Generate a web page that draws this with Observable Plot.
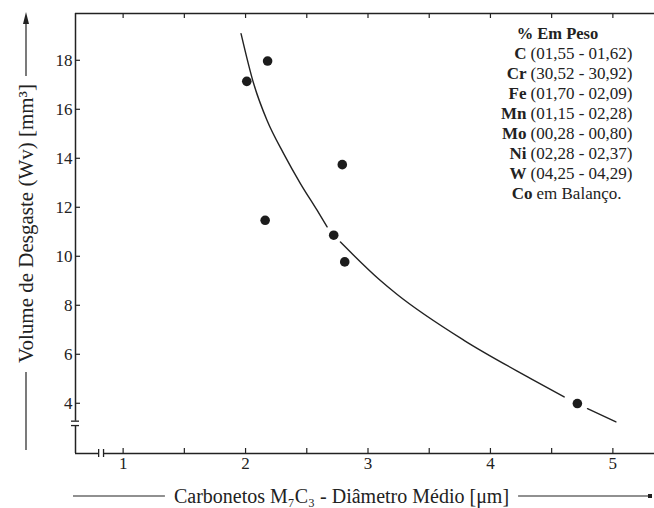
<!DOCTYPE html>
<html><head><meta charset="utf-8">
<script src="https://cdn.jsdelivr.net/npm/d3@7"></script>
<script src="https://cdn.jsdelivr.net/npm/@observablehq/plot@0.6"></script>
<style>
body{margin:0;background:#fff;}
#chart{width:654px;height:508px;}
#chart svg text{font-family:"Liberation Serif","Times New Roman",serif !important;}
</style></head><body><div id="chart"></div>
<script>
// ---- data ----
const pointX = [2.01, 2.18, 2.79, 2.16, 2.72, 2.81, 4.71];
const pointY = [17.14, 17.97, 13.74, 11.47, 10.86, 9.77, 3.99];
const curveSeg = [1,1,1,1,1,1,1, 2,2,2,2,2,2, 3,3];
const curveX = [1.963,2.066,2.175,2.311,2.448,2.584,2.666, 2.775,3.099,3.236,3.784,4.329,4.602, 4.793,5.025];
const curveY = [19.09,17.05,15.55,14.19,12.97,11.88,11.20, 10.58,9.02,8.45,6.57,5.01,4.26, 3.78,3.24];
const xTicks = [1,1.5,2,2.5,3,3.5,4,4.5,5];
const xTickLabels = [1,2,3,4,5];
const yTicks = [4,6,8,10,12,14,16,18];
const xDomain = [0.611, 5.34];
const yDomain = [1.95, 19.91];
const yBreak = [3.09, 3.27];
const xBreak = [0.80, 0.84];
const legendTitle = "% Em Peso";
const elements = ["C","Cr","Fe","Mn","Mo","Ni","W","Co"];
const ranges = ["(01,55 - 01,62)","(30,52 - 30,92)","(01,70 - 02,09)","(01,15 - 02,28)","(00,28 - 00,80)","(02,28 - 02,37)","(04,25 - 04,29)","em Balanço."];
const xLabel = "Carbonetos M\u2087C\u2083 - Diâmetro Médio [μm]";
const yLabel = "Volume de Desgaste (Wv) [mm³]";

// ---- build ----
const W = 654, H = 508, mL = 75, mR = 0, mT = 13, mB = 55;
const fw = W - mL - mR, fh = H - mT - mB;
const points = pointX.map((x,i)=>({x, y: pointY[i]}));
const curve = curveX.map((x,i)=>({x, y: curveY[i], s: curveSeg[i]}));
const ink = "#222";
const font = '"Liberation Serif","Times New Roman",serif';

const legendMarks = [
  Plot.text([legendTitle], {frameAnchor:"top-left", dx: 557-mL, dy: 33-mT, textAnchor:"middle", lineAnchor:"middle", fontWeight:"bold", fontSize:16.5, fontFamily: font, fill: ink})
];
const rowSp = 20;
elements.forEach((e,i)=>{
  const last = i === elements.length-1;
  legendMarks.push(Plot.text([e], {frameAnchor:"top-left", dx: (last?532:526)-mL, dy: 33+(i+1)*rowSp-mT, textAnchor:"end", lineAnchor:"middle", fontWeight:"bold", fontSize:17, fontFamily: font, fill: ink}));
  legendMarks.push(Plot.text([ranges[i]], {frameAnchor:"top-left", dx: (last?536:530)-mL, dy: 33+(i+1)*rowSp-mT, textAnchor:"start", lineAnchor:"middle", fontSize:17, fontFamily: font, fill: ink}));
});

const chart = Plot.plot({
  width: W, height: H, marginLeft: mL, marginRight: mR, marginTop: mT, marginBottom: mB,
  style: {fontFamily: font, background: "#fff", color: ink, overflow: "visible"},
  x: {domain: xDomain, axis: null},
  y: {domain: yDomain, axis: null},
  marks: [
    // frame lines (with axis breaks)
    Plot.ruleY([yDomain[1]], {x1: xDomain[0], x2: xDomain[1], stroke: ink, strokeWidth: 1.5}),
    Plot.ruleY([yDomain[0]], {x1: xDomain[0], x2: xBreak[0], stroke: ink, strokeWidth: 1.5}),
    Plot.ruleY([yDomain[0]], {x1: xBreak[1], x2: xDomain[1], stroke: ink, strokeWidth: 1.5}),
    Plot.ruleX([xDomain[0]], {y1: yDomain[0], y2: yBreak[0], stroke: ink, strokeWidth: 1.5}),
    Plot.ruleX([xDomain[0]], {y1: yBreak[1], y2: yDomain[1], stroke: ink, strokeWidth: 1.5}),
    Plot.tickX(xBreak, {x: d=>d, insetTop: fh-4, insetBottom: -4, stroke: ink, strokeWidth: 1.3}),
    Plot.tickY(yBreak, {y: d=>d, insetLeft: -4, insetRight: fw-4, stroke: ink, strokeWidth: 1.3}),
    // inward ticks
    Plot.tickX(xTicks, {x: d=>d, insetTop: fh-5, stroke: ink, strokeWidth: 1.2}),
    Plot.tickX(xTicks, {x: d=>d, insetBottom: fh-5, stroke: ink, strokeWidth: 1.2}),
    Plot.tickY(yTicks, {y: d=>d, insetRight: fw-5, stroke: ink, strokeWidth: 1.2}),
    // tick labels
    Plot.axisX(xTickLabels, {anchor: "bottom", tickSize: 0, tickPadding: 3, tickFormat: d3.format("d"), fontSize: 17, fontFamily: font, label: null, fill: ink}),
    Plot.axisY(yTicks, {anchor: "left", tickSize: 0, tickPadding: 3, tickFormat: d3.format("d"), fontSize: 17, fontFamily: font, label: null, fill: ink}),
    // curve and points
    Plot.line(curve, {x: "x", y: "y", z: "s", curve: "monotone-x", stroke: ink, strokeWidth: 1.4}),
    Plot.dot(points, {x: "x", y: "y", r: 4.8, fill: "#1c1c1c", stroke: "none"}),
    // axis titles
    Plot.text([xLabel], {frameAnchor: "bottom", dx: 341-(mL+fw/2), dy: 43, textAnchor: "middle", lineAnchor: "middle", fontSize: 20, fontFamily: font, fill: ink}),
    Plot.text([yLabel], {frameAnchor: "left", dx: 26-mL, dy: 223-(mT+fh/2), rotate: -90, textAnchor: "middle", lineAnchor: "middle", fontSize: 21, fontFamily: font, fill: ink}),
    ...legendMarks
  ]
});
document.getElementById("chart").appendChild(chart);

// decorative lines beside the axis titles (positioned from the measured text boxes)
const svg = d3.select(chart);
const texts = chart.querySelectorAll("text");
let xt = null, yt = null;
texts.forEach(t => { if (t.textContent === xLabel) xt = t; if (t.textContent === yLabel) yt = t; });
const deco = svg.append("g").attr("stroke", ink).attr("fill", ink);
if (xt) {
  const r = xt.getBoundingClientRect(), s = chart.getBoundingClientRect();
  const x0 = r.left - s.left, x1 = r.right - s.left, yc = 496;
  deco.append("line").attr("x1", 73).attr("x2", x0 - 9).attr("y1", yc).attr("y2", yc).attr("stroke-width", 1.2);
  deco.append("line").attr("x1", x1 + 9).attr("x2", 650).attr("y1", yc).attr("y2", yc).attr("stroke-width", 1.2);
  deco.append("rect").attr("x", 648).attr("y", yc - 2).attr("width", 4).attr("height", 4).attr("stroke", "none");
}
if (yt) {
  const r = yt.getBoundingClientRect(), s = chart.getBoundingClientRect();
  const y0 = r.top - s.top, y1 = r.bottom - s.top, xc = 26;
  deco.append("line").attr("x1", xc).attr("x2", xc).attr("y1", 22).attr("y2", y0 - 8).attr("stroke-width", 1.2);
  deco.append("path").attr("d", `M${xc},12 L${xc-3},24 L${xc+3},24 Z`).attr("stroke", "none");
  deco.append("line").attr("x1", xc).attr("x2", xc).attr("y1", y1 + 9).attr("y2", 450).attr("stroke-width", 1.2);
}
</script></body></html>
